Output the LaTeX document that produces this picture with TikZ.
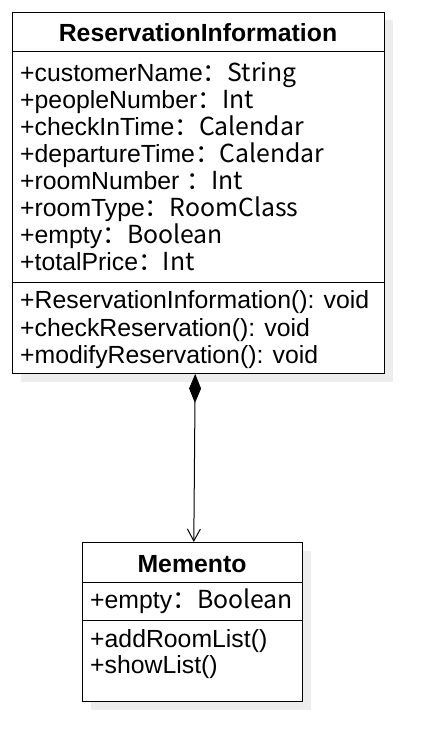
\documentclass[tikz,border=0pt]{standalone}
\usepackage{fontspec}
\setmainfont{Liberation Sans}
\newfontfamily\cjk{Noto Sans CJK SC}
\usetikzlibrary{arrows.meta,shadows}
\begin{document}
\begin{tikzpicture}[x=1pt,y=-1pt,
  umlbox/.style={draw=black,line width=1pt,fill=white,inner sep=0pt,anchor=north west,
    drop shadow={shadow xshift=8pt,shadow yshift=-8pt,fill=black!7,opacity=1}},
  attr/.style={anchor=base west,inner sep=0pt,font=\fontsize{24.8}{27}\selectfont},
  title/.style={anchor=base,inner sep=0pt,font=\fontsize{24.8}{27}\selectfont\bfseries},
  divider/.style={line width=1pt},
  conn/.style={line width=1pt,{Diamond[length=29pt,width=12pt,fill=black]}-{Straight Barb[length=12pt,width=13pt]}}]
\useasboundingbox (0,0) rectangle (433,751);
% ReservationInformation
\node[umlbox,minimum width=372pt,minimum height=361pt] (ri) at (12,12) {};
\draw[divider] ([yshift=-40pt]ri.north west) -- ([yshift=-40pt]ri.north east);
\draw[divider] ([yshift=-270.5pt]ri.north west) -- ([yshift=-270.5pt]ri.north east);
\node[title] (rit) at (198,41.7) {ReservationInformation};
\node[attr] (a1) at (20,81.5) {+customerName\cjk{：}String};
\node[attr] (a2) at (20,108.5) {+peopleNumber\cjk{：}Int};
\node[attr] (a3) at (20,135.5) {+checkInTime\cjk{：}Calendar};
\node[attr] (a4) at (20,162.5) {+departureTime\cjk{：}Calendar};
\node[attr] (a5) at (20,189.5) {+roomNumber \cjk{：}Int};
\node[attr] (a6) at (20,216.5) {+roomType\cjk{：}RoomClass};
\node[attr] (a7) at (20,243.5) {+empty\cjk{：}Boolean};
\node[attr] (a8) at (20,270.5) {+totalPrice\cjk{：}Int};
\node[attr] (m1) at (20,308.5) {+ReservationInformation(): void};
\node[attr] (m2) at (20,336) {+checkReservation(): void};
\node[attr] (m3) at (20,363.5) {+modifyReservation(): void};
% Memento
\node[umlbox,minimum width=220pt,minimum height=159pt] (me) at (82,542) {};
\draw[divider] ([yshift=-40pt]me.north west) -- ([yshift=-40pt]me.north east);
\draw[divider] ([yshift=-78pt]me.north west) -- ([yshift=-78pt]me.north east);
\node[title] (met) at (192,572) {Memento};
\node[attr] (b1) at (90,608) {+empty\cjk{：}Boolean};
\node[attr] (n1) at (90,647) {+addRoomList()};
\node[attr] (n2) at (90,673.5) {+showList()};
% connector
\draw[conn] ([xshift=-3.3pt]ri.south) -- ([xshift=1.3pt]me.north);
\end{tikzpicture}
\end{document}
